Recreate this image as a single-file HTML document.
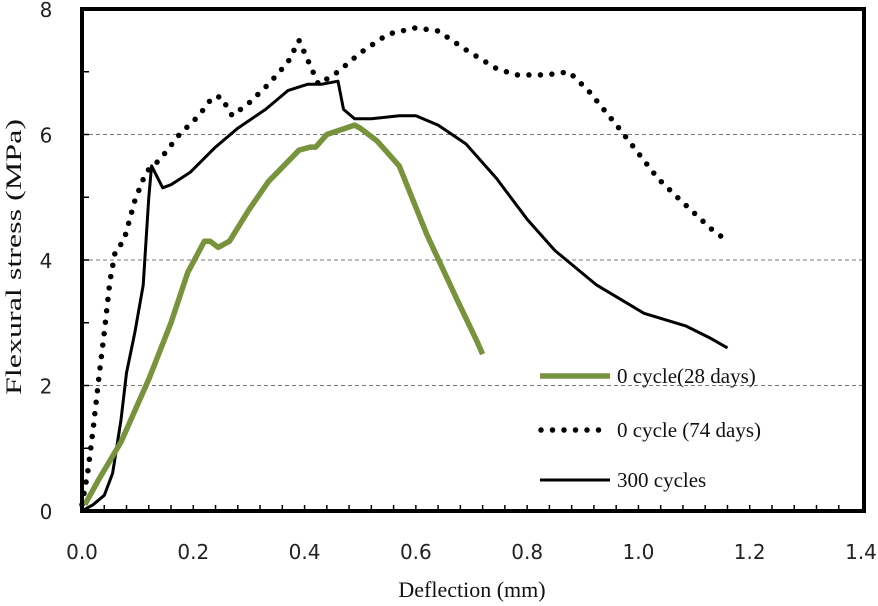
<!DOCTYPE html>
<html><head><meta charset="utf-8"><style>
body{margin:0;background:#fff;}
svg{display:block;}
.tk{font-family:"DejaVu Sans","Liberation Sans",sans-serif;font-size:20px;fill:#222;}
.tt{font-family:"Liberation Serif",serif;font-size:22px;fill:#111;}
.lg{font-family:"Liberation Serif",serif;font-size:21px;fill:#111;}
</style></head><body>
<svg id="chart" width="878" height="606"></svg>
<script>
const xTicks=[0,0.2,0.4,0.6,0.8,1.0,1.2,1.4];
const xTickLabels=["0.0","0.2","0.4","0.6","0.8","1.0","1.2","1.4"];
const yTicks=[0,2,4,6,8];
const yTickLabels=["0","2","4","6","8"];
const seriesNames=["0 cycle(28 days)","0 cycle (74 days)","300 cycles"];
const greenX=[0.005,0.03,0.07,0.12,0.16,0.19,0.22,0.23,0.245,0.265,0.3,0.335,0.39,0.41,0.42,0.44,0.49,0.5,0.53,0.57,0.62,0.675,0.71,0.72];
const greenY=[0.1,0.5,1.1,2.1,3.0,3.8,4.3,4.3,4.2,4.3,4.8,5.25,5.75,5.8,5.8,6.0,6.15,6.1,5.9,5.5,4.4,3.35,2.7,2.5];
const dotX=[0,0.01,0.02,0.03,0.04,0.05,0.06,0.075,0.095,0.115,0.14,0.175,0.21,0.235,0.25,0.27,0.3,0.335,0.37,0.39,0.405,0.425,0.46,0.5,0.55,0.6,0.64,0.69,0.745,0.78,0.835,0.875,0.91,0.965,1.035,1.07,1.13,1.16];
const dotY=[0.1,0.6,1.3,2.1,2.85,3.65,4.15,4.3,4.95,5.4,5.6,6.0,6.3,6.6,6.6,6.3,6.5,6.8,7.15,7.5,7.2,6.8,7.0,7.3,7.6,7.7,7.65,7.35,7.05,6.95,6.95,7.0,6.7,6.1,5.3,5.0,4.5,4.3];
const blackX=[0,0.02,0.04,0.055,0.07,0.08,0.095,0.11,0.12,0.125,0.145,0.16,0.195,0.24,0.28,0.33,0.37,0.405,0.43,0.46,0.47,0.49,0.52,0.57,0.6,0.64,0.69,0.745,0.8,0.85,0.925,1.01,1.085,1.13,1.16];
const blackY=[0,0.1,0.25,0.6,1.45,2.2,2.85,3.6,5.0,5.5,5.15,5.2,5.4,5.8,6.1,6.4,6.7,6.8,6.8,6.85,6.4,6.25,6.25,6.3,6.3,6.15,5.85,5.3,4.65,4.15,3.6,3.15,2.95,2.75,2.6];

const L=82,R=861,T=9,B=511,FR=864;
const sx=v=>L+(v/1.4)*(R-L);
const sy=v=>B-(v/8)*(B-T);
const NS="http://www.w3.org/2000/svg";
const svg=document.getElementById('chart');
function mk(tag,attrs,parent){const e=document.createElementNS(NS,tag);for(const k in attrs)e.setAttribute(k,attrs[k]);(parent||svg).appendChild(e);return e;}

[2,4,6].forEach(v=>{
  const g=mk('line',{x1:L,x2:FR,y1:sy(v),y2:sy(v),stroke:'#777','stroke-width':1,'stroke-dasharray':'4 3'});
  
  
});
for(let v=1;v<8;v++){
  const t=mk('line',{x1:L,x2:L+7,y1:sy(v),y2:sy(v),stroke:'#000','stroke-width':1.5});
  
  
}
for(let i=1;i<35;i++){
  const v=i*0.04;
  const t=mk('line',{x1:sx(v),x2:sx(v),y1:B,y2:B-6,stroke:'#000','stroke-width':1.5});
  
  
}
function series(xs,ys,attrs,name){
  const d=xs.map((x,i)=>(i?'L':'M')+sx(x).toFixed(1)+','+sy(ys[i]).toFixed(1)).join(' ');
  const p=mk('path',Object.assign({d:d,fill:'none'},attrs));
  
  
}
series(dotX,dotY,{stroke:'#000','stroke-width':5.5,'stroke-linecap':'round','stroke-dasharray':'0 11.5'},'series-0-cycle-74-days');
series(blackX,blackY,{stroke:'#000','stroke-width':3,'stroke-linejoin':'round'},'series-300-cycles');
series(greenX,greenY,{stroke:'#77933c','stroke-width':5.5,'stroke-linejoin':'round','stroke-linecap':'butt'},'series-0-cycle-28-days');

const f=mk('rect',{x:L,y:T,width:FR-L,height:B-T,fill:'none',stroke:'#000','stroke-width':4});



xTicks.forEach((v,i)=>{
  const t=mk('text',{x:sx(v),y:559,'text-anchor':'middle',class:'tk'});
  t.textContent=xTickLabels[i];
  
  
});
yTicks.forEach((v,i)=>{
  const t=mk('text',{x:46,y:sy(v)+8,'text-anchor':'middle',class:'tk'});
  t.textContent=yTickLabels[i];
  
  
});
const xt=mk('text',{x:472,y:597,'text-anchor':'middle',class:'tt'});
xt.textContent='Deflection (mm)';


const yt=mk('text',{x:0,y:0,'text-anchor':'middle',class:'tt',textLength:276,lengthAdjust:'spacingAndGlyphs',transform:'translate(21,257) rotate(-90)'});
yt.textContent='Flexural stress (MPa)';



const lgY=[376,430,480];
const lgStyles=[{stroke:'#77933c','stroke-width':5.5},{stroke:'#000','stroke-width':5.5,'stroke-linecap':'round','stroke-dasharray':'0 11.5'},{stroke:'#000','stroke-width':3}];
seriesNames.forEach((n,i)=>{
  const g=mk('g',{});
  
  
  mk('line',Object.assign({x1:i==1?541:540,x2:610,y1:lgY[i],y2:lgY[i]},lgStyles[i]),g);
  const t=mk('text',{x:617,y:lgY[i]+7,class:'lg'},g);
  t.textContent=n;
});
</script>
</body></html>
